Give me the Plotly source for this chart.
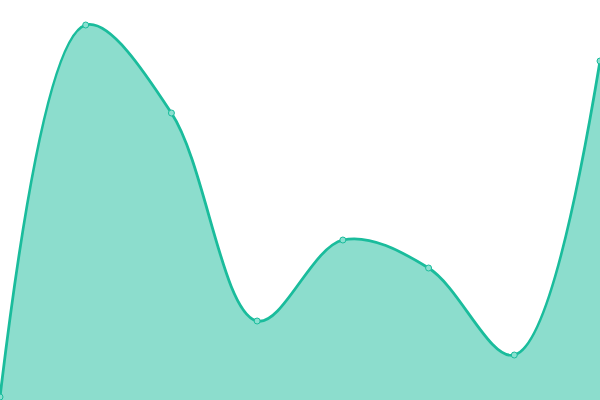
import plotly.graph_objects as go

x_vals = [0, 1, 2, 3, 4, 5, 6, 7]
y_vals = [3, 375, 287, 79, 160, 132, 45, 339]

fig = go.Figure()
fig.add_trace(go.Scatter(
    x=x_vals, y=y_vals,
    mode='lines+markers',
    line=dict(color='#1abc9c', width=2.8, shape='spline', smoothing=1),
    marker=dict(size=6, color='#8ae0d0', line=dict(color='#1abc9c', width=1)),
    fill='tozeroy',
    fillcolor='rgba(26,188,156,0.5)',
    cliponaxis=False,
))
fig.update_layout(
    autosize=True,
    margin=dict(l=0, r=0, t=0, b=0),
    paper_bgcolor='white', plot_bgcolor='white',
    showlegend=False,
    xaxis=dict(visible=False, range=[0, 7]),
    yaxis=dict(visible=False, range=[0, 400]),
)
fig.write_html("out.html", default_width='600px', default_height='400px',
               config={'displayModeBar': False},
               post_script="document.body.style.margin='0';")
